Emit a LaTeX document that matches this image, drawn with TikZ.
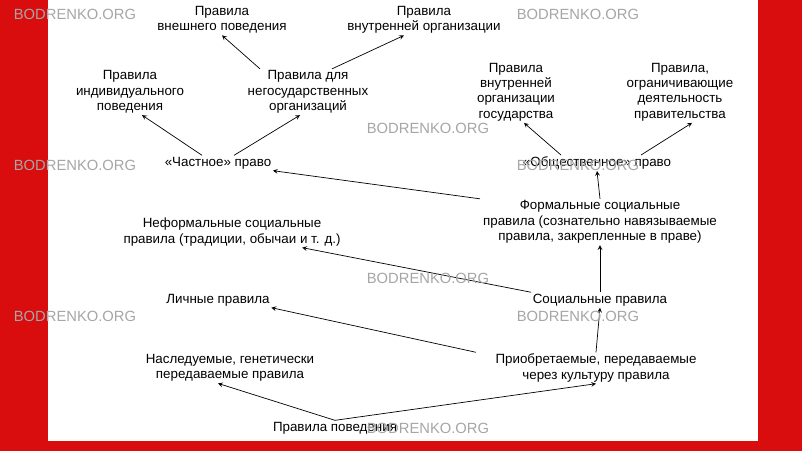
\documentclass[tikz,border=0pt]{standalone}
\usepackage{fontspec}
\setmainfont{Liberation Sans}
\usepackage{tikz}
\definecolor{frame}{rgb}{0.85,0.05,0.05}
\tikzset{rule/.style={align=center, inner sep=1pt, font=\fontsize{9.5}{11}\selectfont},
 wm/.style={text=gray!70, font=\fontsize{10.5}{12}\selectfont},
 arr/.style={->,>=stealth, line width=0.5pt}}
\begin{document}
\begin{tikzpicture}[x=0.025cm,y=-0.025cm]
\fill[frame] (0,0) rectangle (802,451);
\fill[white] (48,0) rectangle (758,441);
\useasboundingbox (0,0) rectangle (802,451);

\node[rule] (root) at (335,428) {Правила поведения};
\node[rule] (gen) at (230,368) {Наследуемые, генетически\\передаваемые правила};
\node[rule] (cult) at (596,368) {Приобретаемые, передаваемые\\через культуру правила};
\node[rule] (pers) at (218,300) {Личные правила};
\node[rule] (soc) at (600,300) {Социальные правила};
\node[rule] (inf) at (232,232) {Неформальные социальные\\правила (традиции, обычаи и т. д.)};
\node[rule] (form) at (600,222) {Формальные социальные\\правила (сознательно навязываемые\\правила, закрепленные в праве)};
\node[rule] (priv) at (218,163) {«Частное» право};
\node[rule] (pub) at (597,163) {«Общественное» право};
\node[rule] (ind) at (130,92) {Правила\\индивидуального\\поведения};
\node[rule] (ngo) at (308,92) {Правила для\\негосударственных\\организаций};
\node[rule] (gov) at (516,92) {Правила\\внутренней\\организации\\государства};
\node[rule] (lim) at (680,92) {Правила,\\ограничивающие\\деятельность\\правительства};
\node[rule] (ext) at (222,20) {Правила\\внешнего поведения};
\node[rule] (int) at (424,20) {Правила\\внутренней организации};

\draw[arr] (root.north) -- ([xshift=-0.3cm] gen.south);
\draw[arr] (root.north) -- (cult.south);
\draw[arr] ([xshift=-3cm] cult.north) -- (pers.south east);
\draw[arr] (cult.north) -- (soc.south);
\draw[arr] (soc.north west) -- ([xshift=-1cm] inf.south east);
\draw[arr] (soc.north) -- (form.south);
\draw[arr] ([xshift=-3cm] form.north) -- (priv.south east);
\draw[arr] (form.north) -- (pub.south);
\draw[arr] ([xshift=-0.4cm] priv.north) -- ([xshift=0.3cm] ind.south);
\draw[arr] ([xshift=0.4cm] priv.north) -- ([xshift=-0.2cm] ngo.south);
\draw[arr] ([xshift=-1.2cm] ngo.north) -- (ext.south);
\draw[arr] ([xshift=0.6cm] ngo.north) -- ([xshift=-0.5cm] int.south);
\draw[arr] ([xshift=-0.9cm] pub.north) -- ([xshift=0.2cm] gov.south);
\draw[arr] ([xshift=1.1cm] pub.north) -- ([xshift=0.3cm] lim.south);

\node[wm] (w1) at (75,14) {BODRENKO.ORG};
\node[wm] (w2) at (578,14) {BODRENKO.ORG};
\node[wm] (w3) at (428,128) {BODRENKO.ORG};
\node[wm] (w4) at (75,165) {BODRENKO.ORG};
\node[wm] (w5) at (578,165) {BODRENKO.ORG};
\node[wm] (w6) at (428,278) {BODRENKO.ORG};
\node[wm] (w7) at (75,316) {BODRENKO.ORG};
\node[wm] (w8) at (578,316) {BODRENKO.ORG};
\node[wm] (w9) at (428,428) {BODRENKO.ORG};
\end{tikzpicture}
\end{document}
